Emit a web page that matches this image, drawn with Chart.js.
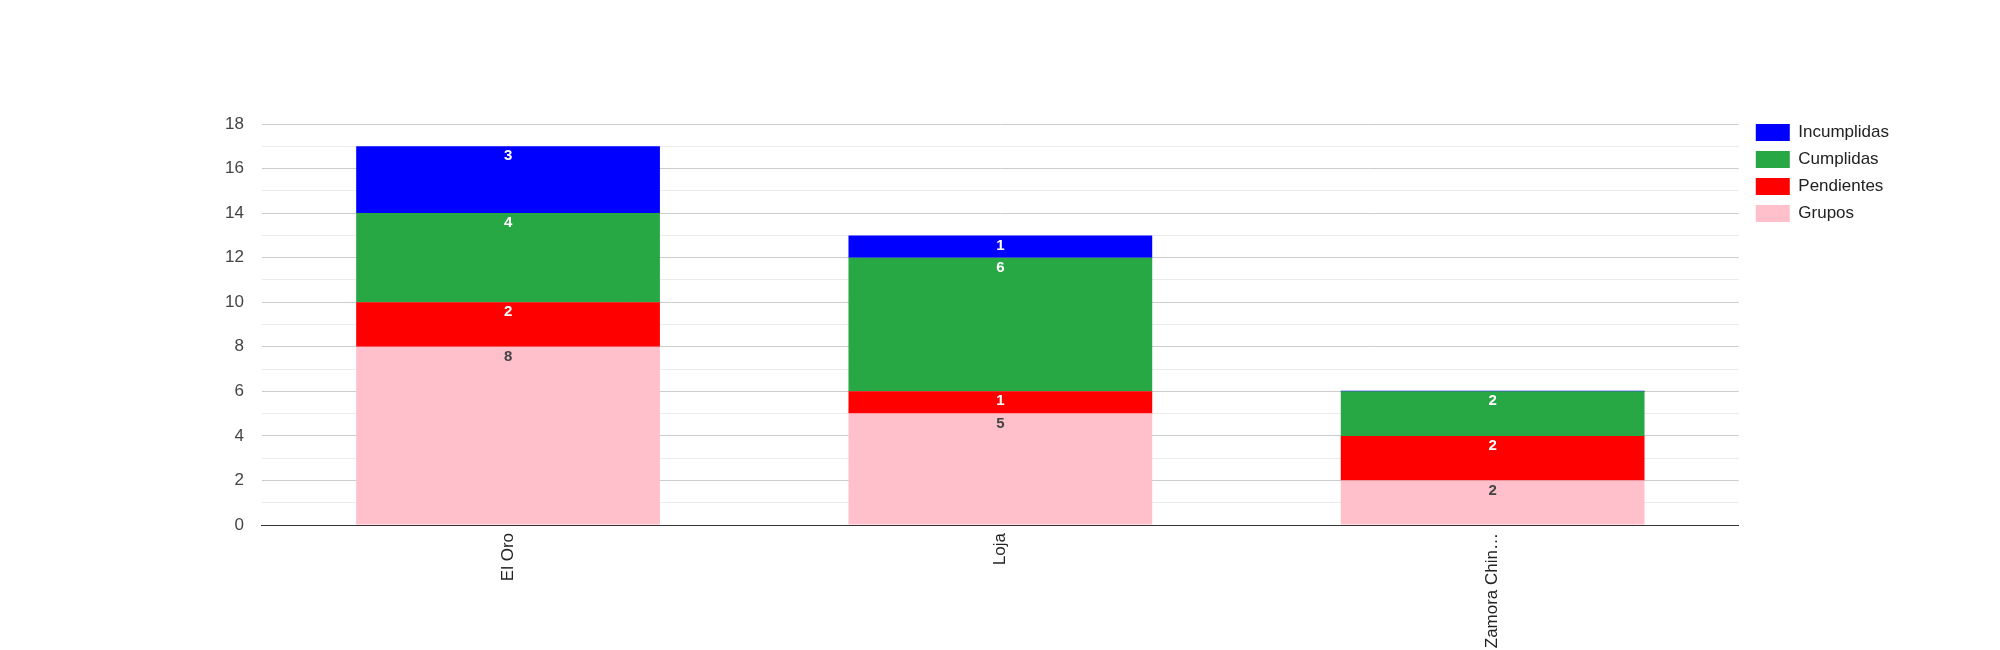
<!DOCTYPE html>
<html>
<head>
<meta charset="utf-8">
<script src="https://cdn.jsdelivr.net/npm/chart.js@4"></script>
<style>
  body { margin: 0; background: #fff; }
  #wrap { width: 2000px; height: 650px; }
</style>
</head>
<body>
<div id="wrap"><canvas id="canvas" width="2000" height="650"></canvas></div>
<script>
// provinces on the x axis
const provincias = ['El Oro', 'Loja', 'Zamora Chinchipe']

// stacked series, bottom to top
const grupos = [8, 5, 2]
const pendientes = [2, 1, 2]
const cumplidas = [4, 6, 2]
const incumplidas = [3, 1, 0]

const yTicks = [0, 2, 4, 6, 8, 10, 12, 14, 16, 18]

// draws the value inside the top of each segment
const segmentLabels = {
    id: 'segmentLabels',
    afterDatasetsDraw(chart) {
        const ctx = chart.ctx
        ctx.save()
        ctx.font = 'bold 15px "Liberation Sans", Arial, sans-serif'
        ctx.textAlign = 'center'
        ctx.textBaseline = 'middle'
        chart.data.datasets.forEach((ds, di) => {
            const meta = chart.getDatasetMeta(di)
            meta.data.forEach((bar, i) => {
                const v = ds.data[i]
                if (!v) return
                ctx.fillStyle = ds.labelColor
                ctx.fillText(v, bar.x, bar.y + 10)
            })
        })
        ctx.restore()
    }
}

// nudge the legend to where the original sits
const legendNudge = {
    id: 'legendNudge',
    afterLayout(chart) {
        const lg = chart.legend
        lg.left += 7; lg.right += 7
        lg.top -= 10; lg.bottom -= 10
    }
}

const ctx = document.querySelector('#canvas')

new Chart(ctx, {
    type: 'bar',
    data: {
        labels: provincias,
        datasets: [
            { label: 'Grupos', data: grupos, backgroundColor: 'pink', labelColor: '#444' },
            { label: 'Pendientes', data: pendientes, backgroundColor: '#ff0000', labelColor: '#fff' },
            { label: 'Cumplidas', data: cumplidas, backgroundColor: '#28a745', labelColor: '#fff' },
            { label: 'Incumplidas', data: incumplidas, backgroundColor: '#0000ff', labelColor: '#fff', minBarLength: 1 }
        ]
    },
    options: {
        responsive: false,
        animation: false,
        layout: { padding: { left: 207, top: 124, right: 108, bottom: 0 } },
        datasets: {
            bar: { categoryPercentage: 1, barPercentage: 0.617, borderWidth: 0 }
        },
        scales: {
            x: {
                stacked: true,
                grid: { display: false },
                border: { color: '#333' },
                afterFit: scale => { scale.height = 125 },
                ticks: {
                    color: '#222',
                    font: { family: '"Liberation Sans", Arial, sans-serif', size: 17 },
                    minRotation: 90,
                    maxRotation: 90,
                    padding: 0,
                    callback: function(value) {
                        const s = this.getLabelForValue(value)
                        return s.length > 14 ? s.slice(0, 11) + '…' : s
                    }
                }
            },
            y: {
                stacked: true,
                min: 0,
                max: 18,
                border: { display: false },
                grid: {
                    drawTicks: false,
                    color: c => c.tick.value === 0 ? '#333' : (yTicks.includes(c.tick.value) ? '#cccccc' : '#ebebeb')
                },
                ticks: {
                    stepSize: 1,
                    autoSkip: false,
                    padding: 18,
                    color: '#444',
                    font: { family: '"Liberation Sans", Arial, sans-serif', size: 17 },
                    callback: value => yTicks.includes(value) ? value : ''
                }
            }
        },
        plugins: {
            legend: {
                position: 'right',
                align: 'start',
                reverse: true,
                labels: {
                    color: '#222',
                    boxWidth: 34,
                    boxHeight: 17,
                    padding: 10,
                    font: { family: '"Liberation Sans", Arial, sans-serif', size: 17 }
                }
            },
            tooltip: { enabled: false }
        }
    },
    plugins: [segmentLabels, legendNudge]
})
</script>
</body>
</html>
